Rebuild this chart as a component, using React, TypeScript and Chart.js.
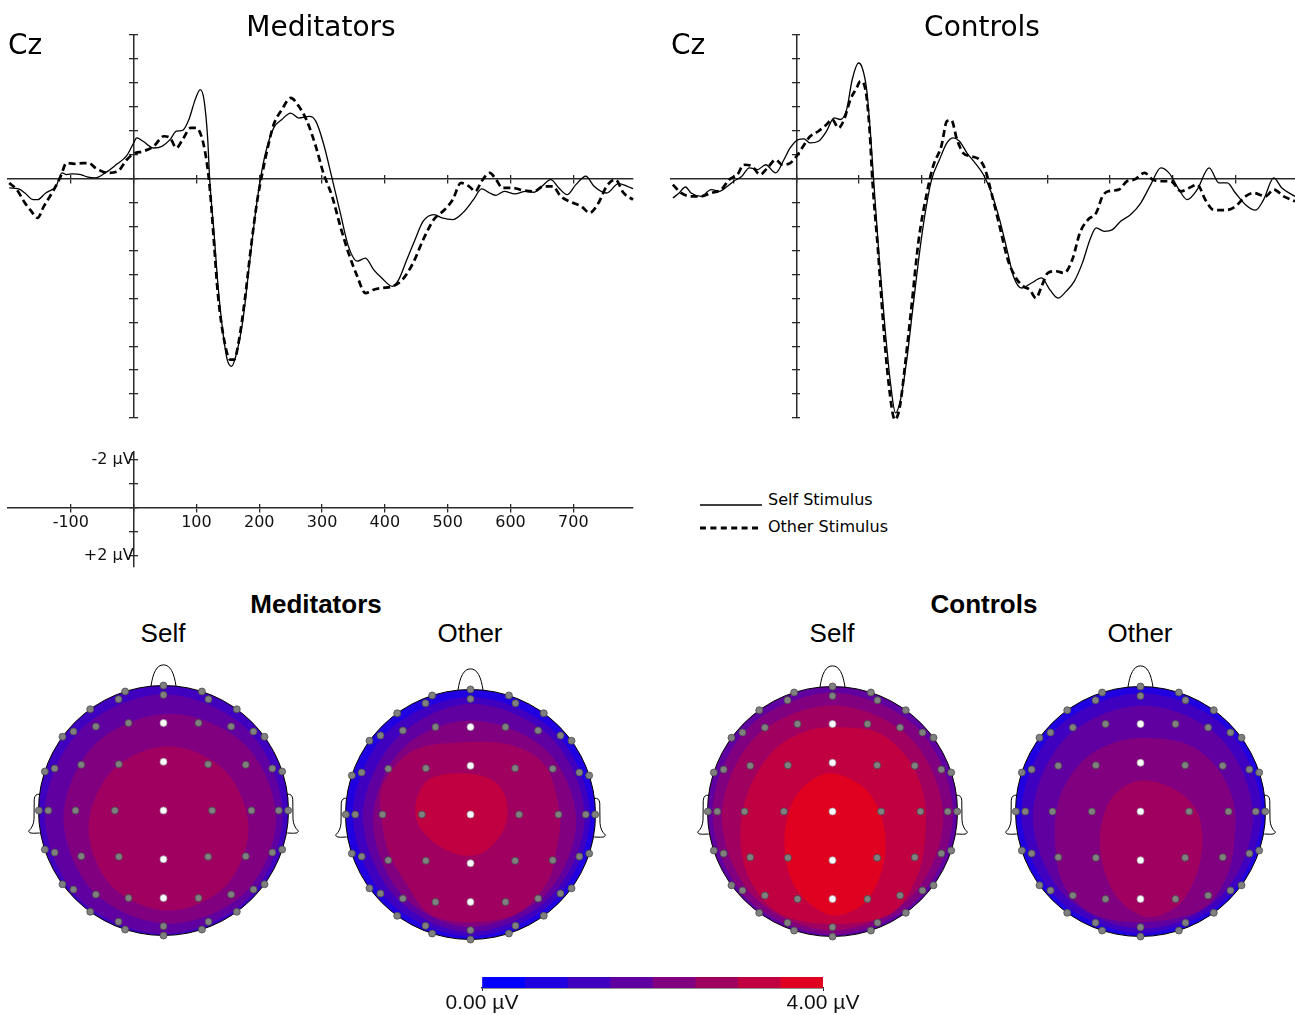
import React, { useEffect, useRef } from 'react';
import { Chart, registerables } from 'chart.js';

Chart.register(...registerables);

const SANS = '"DejaVu Sans", sans-serif';
const ARIAL = '"Liberation Sans", Arial, sans-serif';

// ---------- ERP waveforms (Cz), time in ms, amplitude in µV (negative plotted up) ----------
const medSelfT = [-198,-183,-173,-160,-153,-140,-130,-124,-114,-107,-97,-84,-74,-61,-44,-28,-11,0,5,15,32,45,58,68,78,88,98,106,112,118,121,128,134,141,149,156,164,174,184,194,202,210,223,236,250,263,280,290,302,316,329,342,356,369,382,395,412,422,435,448,461,478,491,508,524,541,554,567,577,590,607,624,637,650,664,677,690,704,720,733,753,772,786,795];
const medSelfV = [0.39,0.43,0.6,0.88,0.88,0.6,0.46,0.35,-0.24,-0.17,-0.2,-0.17,-0.07,-0.03,-0.26,-0.58,-0.96,-1.49,-1.7,-1.56,-1.28,-1.35,-1.63,-1.98,-2.02,-2.47,-3.3,-3.72,-3.3,-1.63,0,2.27,4.36,6.17,7.56,7.84,7.28,5.9,3.66,1.43,0,-1.07,-2.12,-2.47,-2.74,-2.53,-2.6,-2.4,-1.49,0,1.43,2.83,3.45,3.32,3.8,4.15,4.5,4.22,3.38,2.55,1.78,1.5,1.64,1.71,1.43,0.88,0.43,0.6,0.7,0.53,0.64,0.53,0.57,0.32,0.04,0.39,0.67,0.25,-0.1,0.32,0.6,0.21,0.32,0.42];

const medOtherT = [-198,-186,-173,-163,-153,-143,-130,-116,-107,-94,-81,-71,-61,-51,-41,-25,-11,0,15,32,48,58,68,78,91,99,107,115,121,128,134,144,154,160,167,177,187,197,205,214,223,236,250,263,276,290,302,316,329,342,356,369,382,395,412,428,445,461,478,495,508,521,534,544,554,567,577,587,604,620,637,653,667,680,700,713,726,740,753,767,780,795];
const medOtherV = [0.18,0.46,1.02,1.36,1.64,1.16,0.6,-0.1,-0.65,-0.62,-0.65,-0.65,-0.45,-0.31,-0.24,-0.31,-0.79,-1.04,-1.14,-1.35,-1.77,-1.7,-1.28,-1.63,-2.12,-2.12,-1.84,-0.93,0.32,2.69,4.78,6.73,7.56,7.56,6.86,5.06,2.83,0.88,-0.24,-1.35,-2.26,-2.88,-3.37,-3.02,-2.4,-1.35,-0.24,0.74,1.99,3.1,4.08,4.78,4.64,4.57,4.5,4.22,3.52,2.55,1.71,1.3,0.88,0.18,0.32,0.53,0.11,-0.24,0.04,0.39,0.39,0.49,0.53,0.32,0.32,0.74,1.02,1.16,1.43,1.02,0.32,0.04,0.6,0.88];

const ctrlSelfT = [-197,-187,-177,-168,-152,-136,-123,-110,-100,-87,-75,-62,-49,-33,-20,-10,3,12,22,35,48,60,70,80,89,99,105,112,118,123,131,141,150,158,166,176,186,199,208,216,228,240,250,260,272,285,298,311,324,337,346,359,375,391,404,417,430,443,456,469,478,491,504,517,533,549,565,581,594,610,623,639,658,674,687,700,716,732,745,761,774,795];
const ctrlSelfV = [0.81,0.6,0.35,0.6,0.74,0.46,0.53,0.32,0.11,-0.1,-0.45,-0.38,-0.58,-0.24,-0.79,-1.28,-1.63,-1.66,-1.49,-1.56,-1.98,-2.54,-2.47,-2.88,-4.14,-4.83,-4.62,-3.72,-1.91,0,2.97,6.17,8.54,9.79,9.23,7.56,5.33,2.55,1.02,0,-0.79,-1.49,-1.7,-1.56,-1.07,-0.65,-0.17,0.6,1.71,3.1,4.08,4.57,4.36,4.15,4.64,4.99,4.71,4.29,3.52,2.48,2.06,2.2,2.13,1.78,1.5,1.02,0.25,-0.45,-0.24,0.46,0.88,0.46,-0.45,0.18,0.18,0.6,1.09,1.32,0.88,-0.03,0.39,0.74];

const ctrlOtherT = [-197,-184,-168,-152,-136,-120,-107,-94,-84,-71,-58,-46,-33,-23,-10,0,9,22,35,48,57,67,76,86,96,102,111,117,121,130,138,147,157,165,173,183,195,208,218,231,240,247,256,266,279,292,301,311,324,337,350,362,372,382,391,401,414,427,440,452,465,478,488,497,514,527,539,555,568,581,597,613,626,639,652,665,684,700,716,729,748,761,777,795];
const ctrlOtherV = [0.25,0.6,0.74,0.74,0.6,0.46,0.04,-0.17,-0.58,-0.52,-0.17,-0.45,-0.79,-0.58,-0.65,-0.93,-1.28,-1.77,-1.98,-2.26,-2.47,-2.12,-2.47,-3.3,-3.79,-4.07,-3.58,-1.91,0,2.97,5.9,8.54,10.07,9.51,7.84,5.47,2.55,0.6,-0.52,-1.35,-2.4,-2.44,-1.63,-1.07,-0.93,-0.79,-0.38,0.6,1.99,3.38,4.15,4.5,4.64,4.99,4.5,3.94,3.87,3.94,3.38,2.27,1.71,1.43,0.74,0.53,0.46,0.11,0.04,-0.24,0.04,0.11,0.11,0.53,0.39,0.25,0.88,1.3,1.32,1.16,0.74,0.6,0.74,0.46,0.74,0.95];

// axis ticks
const TIME_TICKS = [-100, 0, 100, 200, 300, 400, 500, 600, 700];
const AMP_TICKS = [-6, -5, -4, -3, -2, -1, 0, 1, 2, 3, 4, 5, 6, 7, 8, 9, 10];
const SCALE_TICKS = [-2, -1, 0, 1, 2];
const SCALE_LABELS: Record<string, string> = { '-2': '-2 µV', '2': '+2 µV' };

// ---------- Topographic maps ----------
const BIN_COLORS = ['rgb(0,0,255)', 'rgb(32,0,224)', 'rgb(64,0,192)', 'rgb(96,0,160)', 'rgb(128,0,128)', 'rgb(160,0,96)', 'rgb(192,0,64)', 'rgb(224,0,32)'];
const COLORBAR_STEPS = [0.5, 0.5, 0.5, 0.5, 0.5, 0.5, 0.5, 0.5];
const COLORBAR_TICKS = [0, 4];

// electrode montage (normalised head coordinates, y = anterior)
const MIDLINE_FRONT_Y = [1.0, 0.925, 0.70, 0.39];
const WHITE_MIDLINE = [0.70, 0.39, 0];
const LATERAL_FRONT = [[0.307,0.952],[0.36,0.89],[0.586,0.81],[0.28,0.70],[0.541,0.672],[0.72,0.632],[0.808,0.59],[0.357,0.37],[0.658,0.366],[0.871,0.336],[0.949,0.312]];
const CENTRAL_ROW_X = [0.389, 0.704, 0.922, 0.997];

// contour boundaries: [x, y] vertices of each level's region
const medSelfBase = 2;
const medSelfL3 = [[0,0.93],[0.675,0.645],[0.955,-0.03],[0.675,-0.705],[0,-0.985],[-0.675,-0.705],[-0.95,-0.03],[-0.67,0.64]];
const medSelfL4 = [[0.05,0.775],[0.65,0.53],[0.9,-0.065],[0.65,-0.66],[0.05,-0.905],[-0.55,-0.66],[-0.8,-0.065],[-0.55,0.53]];
const medSelfL5 = [[0.04,0.514],[0.49,0.32],[0.68,-0.143],[0.49,-0.61],[0.04,-0.80],[-0.41,-0.61],[-0.60,-0.143],[-0.41,0.32]];

const medOtherBase = 1;
const medOtherL2 = [[0,0.94],[0.67,0.665],[0.955,0],[0.68,-0.68],[0,-0.975],[-0.67,-0.68],[-0.94,0],[-0.665,0.66]];
const medOtherL3 = [[0,0.886],[0.64,0.62],[0.913,-0.02],[0.64,-0.66],[0,-0.94],[-0.6,-0.66],[-0.86,-0.02],[-0.6,0.6]];
const medOtherL4 = [[0,0.752],[0.6,0.52],[0.846,-0.05],[0.6,-0.64],[0,-0.9],[-0.55,-0.64],[-0.78,-0.05],[-0.55,0.52]];
const medOtherL5 = [[-0.06,0.578],[0.34,0.552],[0.607,0.378],[0.714,0],[0.687,-0.288],[0.607,-0.555],[0.367,-0.795],[-0.006,-0.861],[-0.326,-0.795],[-0.513,-0.555],[-0.66,-0.288],[-0.713,0],[-0.7,0.245],[-0.46,0.512]];
const medOtherL6 = [[-0.326,0.285],[-0.06,0.33],[0.18,0.272],[0.287,0.112],[0.274,-0.1],[0.127,-0.288],[-0.06,-0.328],[-0.273,-0.235],[-0.42,-0.075],[-0.433,0.112]];

const ctrlSelfBase = 3;
const ctrlSelfL4 = [[0,0.95],[0.682,0.667],[0.965,-0.015],[0.682,-0.697],[0,-0.98],[-0.682,-0.697],[-0.96,-0.015],[-0.68,0.665]];
const ctrlSelfL5 = [[0,0.85],[0.626,0.586],[0.886,-0.05],[0.626,-0.686],[0,-0.95],[-0.626,-0.686],[-0.885,-0.05],[-0.626,0.586]];
const ctrlSelfL6 = [[0,0.675],[0.355,0.635],[0.595,0.435],[0.728,0.141],[0.742,-0.205],[0.675,-0.525],[0.462,-0.819],[0.008,-0.899],[-0.418,-0.819],[-0.658,-0.552],[-0.738,-0.205],[-0.672,0.168],[-0.472,0.488],[-0.232,0.635]];
const ctrlSelfL7 = [[0.035,0.301],[0.275,0.168],[0.408,-0.099],[0.408,-0.419],[0.275,-0.712],[0.035,-0.832],[-0.178,-0.739],[-0.338,-0.525],[-0.384,-0.205],[-0.312,0.088],[-0.152,0.261]];

const ctrlOtherBase = 1;
const ctrlOtherL2 = [[0.008,0.947],[0.687,0.666],[0.968,-0.013],[0.687,-0.692],[0.008,-0.973],[-0.671,-0.692],[-0.952,-0.013],[-0.671,0.666]];
const ctrlOtherL3 = [[0.02,0.848],[0.642,0.586],[0.9,-0.045],[0.642,-0.676],[0.02,-0.938],[-0.602,-0.676],[-0.86,-0.045],[-0.602,0.586]];
const ctrlOtherL4 = [[-0.006,0.589],[0.368,0.541],[0.608,0.355],[0.741,0.088],[0.754,-0.205],[0.688,-0.525],[0.474,-0.792],[0.021,-0.885],[-0.379,-0.819],[-0.619,-0.579],[-0.686,-0.205],[-0.646,0.115],[-0.486,0.381],[-0.272,0.528]];
const ctrlOtherL5 = [[0.048,0.248],[0.288,0.168],[0.448,0.008],[0.496,-0.232],[0.448,-0.499],[0.314,-0.739],[0.074,-0.845],[-0.139,-0.739],[-0.272,-0.525],[-0.326,-0.232],[-0.272,0.035],[-0.139,0.195]];

// ---------- helpers ----------
const pts = (t: number[], v: number[]) => t.map((x, i) => ({ x, y: v[i] }));
const fixedTicks = (values: number[]) => (s: any) => { s.ticks = values.map((value) => ({ value })); };

function buildElectrodes() {
  const list: { x: number; y: number; white: boolean }[] = [];
  const isWhite = (y: number) => WHITE_MIDLINE.some((w) => Math.abs(Math.abs(y) - w) < 0.01);
  MIDLINE_FRONT_Y.forEach((y) => {
    list.push({ x: 0, y, white: isWhite(y) });
    list.push({ x: 0, y: -y, white: isWhite(y) });
  });
  LATERAL_FRONT.forEach(([x, y]) => {
    list.push({ x, y, white: false });
    list.push({ x: -x, y, white: false });
    list.push({ x, y: -y, white: false });
    list.push({ x: -x, y: -y, white: false });
  });
  CENTRAL_ROW_X.forEach((x) => {
    list.push({ x, y: 0, white: false });
    list.push({ x: -x, y: 0, white: false });
  });
  list.push({ x: 0, y: 0, white: true });
  return list;
}
const ELECTRODES = buildElectrodes();

const AXIS_COLOR = '#2a2a2a';

function crossAxes(xmin: number, xmax: number, ymin: number, ymax: number, yTicks: number[], withLabels: boolean) {
  const grid = (len: number) => ({
    drawOnChartArea: false, drawTicks: true, tickLength: len,
    color: AXIS_COLOR, tickColor: AXIS_COLOR, lineWidth: 1.3, tickWidth: 1.3,
  });
  const labelFont = { family: SANS, size: 16 };
  const baseX = { type: 'linear', axis: 'x', min: xmin, max: xmax, position: { y: 0 }, afterBuildTicks: fixedTicks(TIME_TICKS) };
  const baseY = { type: 'linear', axis: 'y', min: ymin, max: ymax, reverse: true, position: { x: 0 }, afterBuildTicks: fixedTicks(yTicks) };
  return {
    x: {
      ...baseX,
      ticks: {
        display: withLabels, padding: 1, maxRotation: 0, autoSkip: false,
        font: labelFont, color: '#111', callback: (v: number) => (v === 0 ? '' : String(v)),
      },
      grid: grid(4), border: { display: true, color: AXIS_COLOR, width: 1.5 },
    },
    x2: { ...baseX, ticks: { display: false }, grid: grid(-4), border: { display: false } },
    y: {
      ...baseY,
      ticks: {
        display: withLabels, padding: 0, autoSkip: false,
        font: labelFont, color: '#111', callback: (v: number) => SCALE_LABELS[String(v)] || '',
      },
      grid: grid(4), border: { display: true, color: AXIS_COLOR, width: 1.5 },
    },
    y2: { ...baseY, ticks: { display: false }, grid: grid(-4), border: { display: false } },
  };
}

function erpConfig(selfT: number[], selfV: number[], otherT: number[], otherV: number[], padL: number, padR: number) {
  return {
    type: 'line',
    data: {
      datasets: [
        {
          label: 'Self Stimulus', data: pts(selfT, selfV), borderColor: '#000', borderWidth: 1.3,
          pointRadius: 0, cubicInterpolationMode: 'monotone', fill: false, clip: 12, xAxisID: 'x', yAxisID: 'y',
        },
        {
          label: 'Other Stimulus', data: pts(otherT, otherV), borderColor: '#000', borderWidth: 2.7, borderDash: [7, 4],
          pointRadius: 0, cubicInterpolationMode: 'monotone', fill: false, clip: 12, xAxisID: 'x', yAxisID: 'y',
        },
      ],
    },
    options: {
      responsive: false, animation: false, events: [],
      layout: { autoPadding: false, padding: { left: padL, right: padR, top: 15, bottom: 12 } },
      plugins: { legend: { display: false }, tooltip: { enabled: false } },
      scales: crossAxes(-200, 795, -6, 10, AMP_TICKS, false),
    },
  };
}

function insetConfig() {
  return {
    type: 'line',
    data: { datasets: [] },
    options: {
      responsive: false, animation: false, events: [],
      layout: { autoPadding: false, padding: { left: 8, right: 12, top: 12, bottom: 13 } },
      plugins: { legend: { display: false }, tooltip: { enabled: false } },
      scales: crossAxes(-200, 795, -2.34, 2.46, SCALE_TICKS, true),
    },
  };
}

function smoothClosed(ctx: CanvasRenderingContext2D, X: number[], Y: number[]) {
  const n = X.length;
  ctx.beginPath();
  ctx.moveTo(X[0], Y[0]);
  for (let i = 0; i < n; i++) {
    const i0 = (i - 1 + n) % n, i2 = (i + 1) % n, i3 = (i + 2) % n;
    ctx.bezierCurveTo(
      X[i] + (X[i2] - X[i0]) / 6, Y[i] + (Y[i2] - Y[i0]) / 6,
      X[i2] - (X[i3] - X[i]) / 6, Y[i2] - (Y[i3] - Y[i]) / 6,
      X[i2], Y[i2],
    );
  }
  ctx.closePath();
}

const topoPlugin = {
  id: 'topo',
  beforeDatasetsDraw(chart: any, _args: any, opts: any) {
    const { ctx } = chart;
    const sx = chart.scales.x, sy = chart.scales.y;
    const px = (v: number) => sx.getPixelForValue(v);
    const py = (v: number) => sy.getPixelForValue(v);
    const cx = px(0), cy = py(0), r = px(1) - px(0);
    ctx.save();
    ctx.beginPath();
    ctx.arc(cx, cy, r, 0, Math.PI * 2);
    ctx.fillStyle = BIN_COLORS[opts.base];
    ctx.fill();
    ctx.clip();
    opts.levels.forEach((lv: { bin: number; poly: number[][] }) => {
      smoothClosed(ctx, lv.poly.map((p) => px(p[0])), lv.poly.map((p) => py(p[1])));
      ctx.fillStyle = BIN_COLORS[lv.bin];
      ctx.fill();
    });
    ctx.restore();

    ctx.save();
    ctx.strokeStyle = '#000';
    ctx.lineWidth = 1;
    ctx.beginPath();
    ctx.arc(cx, cy, r, 0, Math.PI * 2);
    ctx.stroke();
    // nose
    ctx.beginPath();
    ctx.moveTo(px(-0.1), py(0.995));
    ctx.bezierCurveTo(px(-0.085), py(1.1), px(-0.055), py(1.165), px(0), py(1.165));
    ctx.bezierCurveTo(px(0.055), py(1.165), px(0.085), py(1.1), px(0.1), py(0.995));
    ctx.stroke();
    // ears
    [-1, 1].forEach((s) => {
      ctx.beginPath();
      ctx.moveTo(px(s * 0.99), py(0.13));
      ctx.quadraticCurveTo(px(s * 1.03), py(0.135), px(s * 1.034), py(0.09));
      ctx.lineTo(px(s * 1.036), py(-0.07));
      ctx.quadraticCurveTo(px(s * 1.04), py(-0.13), px(s * 1.08), py(-0.165));
      ctx.quadraticCurveTo(px(s * 1.075), py(-0.185), px(s * 1.04), py(-0.182));
      ctx.lineTo(px(s * 0.99), py(-0.18));
      ctx.stroke();
    });
    ctx.restore();
  },
};

function topoConfig(base: number, levels: { bin: number; poly: number[][] }[]) {
  return {
    type: 'scatter',
    data: {
      datasets: [{
        data: ELECTRODES.map((e) => ({ x: e.x, y: e.y })),
        pointRadius: 3.5,
        pointBackgroundColor: ELECTRODES.map((e) => (e.white ? '#ffffff' : '#808080')),
        pointBorderColor: ELECTRODES.map((e) => (e.white ? '#a0a0a0' : '#4a4a4a')),
        pointBorderWidth: 0.8,
        clip: false,
      }],
    },
    options: {
      responsive: false, animation: false, events: [],
      layout: { autoPadding: false, padding: 0 },
      plugins: { legend: { display: false }, tooltip: { enabled: false }, topo: { base, levels } },
      scales: {
        x: { type: 'linear', min: -1.3, max: 1.3, display: false },
        y: { type: 'linear', min: -1.3, max: 1.3, display: false },
      },
    },
    plugins: [topoPlugin],
  };
}

function colorbarConfig() {
  return {
    type: 'bar',
    data: {
      labels: [''],
      datasets: COLORBAR_STEPS.map((v, i) => ({
        data: [v], backgroundColor: BIN_COLORS[i], borderWidth: 0, barPercentage: 1, categoryPercentage: 1,
      })),
    },
    options: {
      indexAxis: 'y', responsive: false, animation: false, events: [],
      layout: { autoPadding: false, padding: { left: 62, right: 67, top: 12, bottom: 0 } },
      plugins: { legend: { display: false }, tooltip: { enabled: false } },
      scales: {
        x: {
          type: 'linear', stacked: true, min: 0, max: 4, position: 'bottom',
          afterBuildTicks: fixedTicks(COLORBAR_TICKS),
          afterFit: (s: any) => { s.height = 27; },
          ticks: {
            padding: 0, maxRotation: 0, autoSkip: false, color: '#111',
            font: { family: ARIAL, size: 21 },
            callback: (v: number) => `${Number(v).toFixed(2)} µV`,
          },
          grid: { drawOnChartArea: false, tickLength: 3, color: '#222', tickColor: '#222' },
          border: { display: true, color: '#222', width: 1.5 },
        },
        y: { stacked: true, display: false },
      },
    },
  };
}

function ChartCanvas({ left, top, width, height, make }: any) {
  const ref = useRef<HTMLCanvasElement>(null);
  useEffect(() => {
    const chart = new Chart(ref.current as HTMLCanvasElement, make());
    return () => chart.destroy();
  }, []);
  return (
    <canvas
      ref={ref}
      width={width}
      height={height}
      style={{ position: 'absolute', left, top, width, height, display: 'block' }}
    />
  );
}

function Txt({ x, y, size, family, weight = 'normal', align = 'center', children }: any) {
  const w = 400;
  return (
    <div
      style={{
        position: 'absolute', left: align === 'center' ? x - w / 2 : x, top: y,
        width: align === 'center' ? w : undefined, textAlign: align,
        fontFamily: family, fontSize: size, fontWeight: weight, lineHeight: `${size}px`,
        whiteSpace: 'nowrap', color: '#000',
      }}
    >
      {children}
    </div>
  );
}

export default function App() {
  return (
    <div style={{ position: 'absolute', left: 0, top: 0, width: 1295, height: 1015, background: '#fff', overflow: 'hidden' }}>
      <ChartCanvas left={0} top={20} width={645} height={410}
        make={() => erpConfig(medSelfT, medSelfV, medOtherT, medOtherV, 8, 12)} />
      <ChartCanvas left={660} top={20} width={635} height={410}
        make={() => erpConfig(ctrlSelfT, ctrlSelfV, ctrlOtherT, ctrlOtherV, 11, 0)} />
      <ChartCanvas left={0} top={440} width={645} height={140} make={insetConfig} />

      <Txt x={321} y={12.5} size={28} family={SANS}>Meditators</Txt>
      <Txt x={982} y={12.5} size={28} family={SANS}>Controls</Txt>
      <Txt x={8} y={31} size={28} family={SANS} align="left">Cz</Txt>
      <Txt x={671} y={31} size={28} family={SANS} align="left">Cz</Txt>

      <svg style={{ position: 'absolute', left: 698, top: 495 }} width={70} height={40}>
        <line x1={2} y1={10} x2={64} y2={10} stroke="#000" strokeWidth={1.3} />
        <line x1={2} y1={33} x2={64} y2={33} stroke="#000" strokeWidth={2.8} strokeDasharray="6 4.4" />
      </svg>
      <Txt x={768} y={492} size={16} family={SANS} align="left">Self Stimulus</Txt>
      <Txt x={768} y={519} size={16} family={SANS} align="left">Other Stimulus</Txt>

      <Txt x={316} y={591} size={26} family={ARIAL} weight="bold">Meditators</Txt>
      <Txt x={984} y={591} size={26} family={ARIAL} weight="bold">Controls</Txt>
      <Txt x={163} y={620} size={26} family={ARIAL}>Self</Txt>
      <Txt x={470} y={620} size={26} family={ARIAL}>Other</Txt>
      <Txt x={832} y={620} size={26} family={ARIAL}>Self</Txt>
      <Txt x={1140} y={620} size={26} family={ARIAL}>Other</Txt>

      <ChartCanvas left={1} top={648} width={325} height={325}
        make={() => topoConfig(medSelfBase, [
          { bin: 3, poly: medSelfL3 }, { bin: 4, poly: medSelfL4 }, { bin: 5, poly: medSelfL5 },
        ])} />
      <ChartCanvas left={308} top={652} width={325} height={325}
        make={() => topoConfig(medOtherBase, [
          { bin: 2, poly: medOtherL2 }, { bin: 3, poly: medOtherL3 }, { bin: 4, poly: medOtherL4 },
          { bin: 5, poly: medOtherL5 }, { bin: 6, poly: medOtherL6 },
        ])} />
      <ChartCanvas left={670} top={649} width={325} height={325}
        make={() => topoConfig(ctrlSelfBase, [
          { bin: 4, poly: ctrlSelfL4 }, { bin: 5, poly: ctrlSelfL5 }, { bin: 6, poly: ctrlSelfL6 }, { bin: 7, poly: ctrlSelfL7 },
        ])} />
      <ChartCanvas left={978} top={649} width={325} height={325}
        make={() => topoConfig(ctrlOtherBase, [
          { bin: 2, poly: ctrlOtherL2 }, { bin: 3, poly: ctrlOtherL3 }, { bin: 4, poly: ctrlOtherL4 }, { bin: 5, poly: ctrlOtherL5 },
        ])} />

      <ChartCanvas left={420} top={965} width={470} height={50} make={colorbarConfig} />
    </div>
  );
}
